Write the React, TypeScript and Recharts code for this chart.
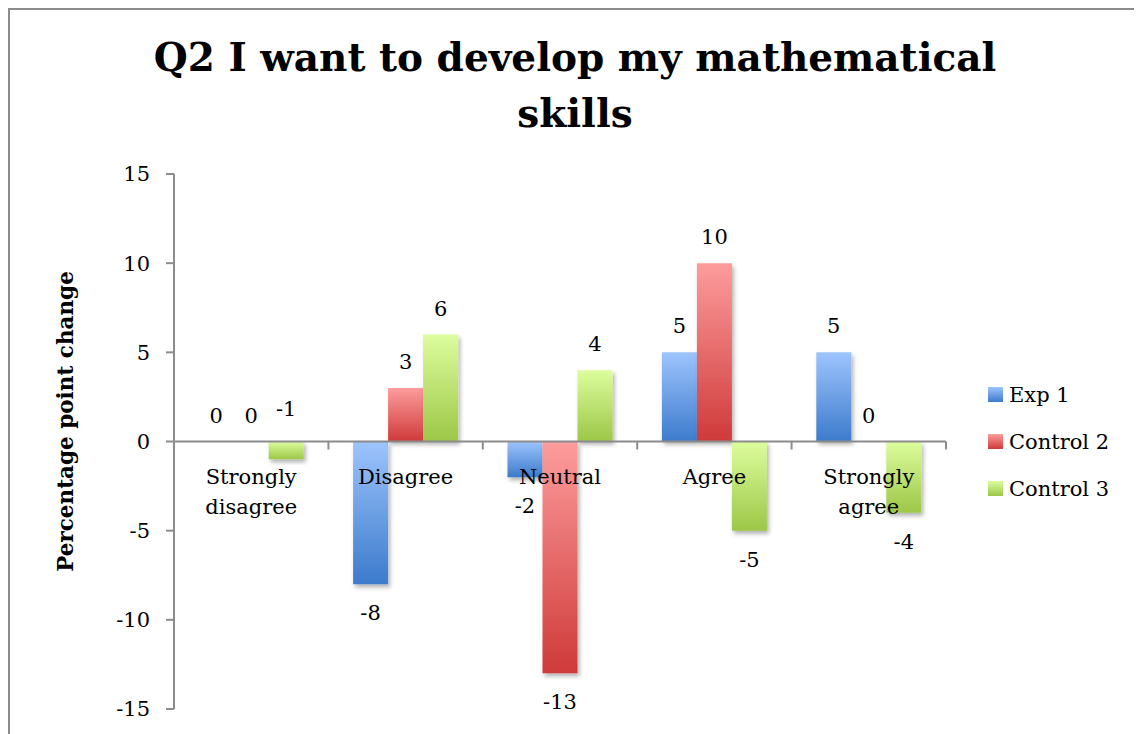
import React from 'react';
import { BarChart, Bar, XAxis, YAxis, ReferenceLine, LabelList, Legend, Rectangle } from 'recharts';

const categories = ['Strongly disagree', 'Disagree', 'Neutral', 'Agree', 'Strongly agree'];
const exp1 = [0, -8, -2, 5, 5];
const control2 = [0, 3, -13, 10, 0];
const control3 = [-1, 6, 4, -5, -4];
const seriesNames = ['Exp 1', 'Control 2', 'Control 3'];
const seriesKeys = ['exp1', 'control2', 'control3'];
const yTicks = [-15, -10, -5, 0, 5, 10, 15];
const titleLines = ['Q2 I want to develop my mathematical', 'skills'];
const yAxisTitle = 'Percentage point change';

const gradients = [
  { id: 'gBlue', top: '#9dc4fd', bottom: '#3c7bcc' },
  { id: 'gRed', top: '#fd9c9c', bottom: '#cf3a3a' },
  { id: 'gGreen', top: '#ddfd9d', bottom: '#9cc747' },
];

const data = categories.map((c, i) => ({
  category: c,
  exp1: exp1[i],
  control2: control2[i],
  control3: control3[i],
}));

const SMALL_FONT = '"DejaVu Serif", serif';
const AXIS_GRAY = '#8c8c8c';

const BarShape = (props: any) => <Rectangle {...props} filter="url(#barShadow)" />;

const renderValueLabel = (props: any) => {
  const { x, y, width, height, value } = props;
  const top = Math.min(y, y + height);
  const bottom = Math.max(y, y + height);
  const cx = x + width / 2;
  let ty: number;
  if (value >= 0) ty = top - 26;
  else if (value > -2) ty = top - 33;
  else ty = bottom + 29;
  return (
    <text x={cx} y={ty} textAnchor="middle" dominantBaseline="central" fontFamily={SMALL_FONT} fontSize={21} fill="#000">
      {value}
    </text>
  );
};

const ZeroAxis = (props: any) => {
  const vb = props.viewBox || {};
  const x0 = vb.x ?? 0;
  const y0 = vb.y ?? 0;
  const w = vb.width ?? 0;
  const n = categories.length;
  const band = w / n;
  return (
    <g>
      {categories.map((_, i) => (
        <line key={'t' + i} x1={x0 + band * (i + 1)} x2={x0 + band * (i + 1)} y1={y0} y2={y0 + 8} stroke={AXIS_GRAY} strokeWidth={2} />
      ))}
      {categories.map((c, i) => {
        const words = c.split(' ');
        return (
          <text key={'c' + i} x={x0 + band * (i + 0.5)} textAnchor="middle" fontFamily={SMALL_FONT} fontSize={21} fill="#000">
            {words.map((wd, j) => (
              <tspan key={j} x={x0 + band * (i + 0.5)} y={y0 + 35 + j * 30} dominantBaseline="central">
                {wd}
              </tspan>
            ))}
          </text>
        );
      })}
    </g>
  );
};

const LegendContent = () => (
  <div style={{ fontFamily: SMALL_FONT, fontSize: 21, color: '#000' }}>
    {seriesNames.map((name, i) => (
      <div key={name} style={{ display: 'flex', alignItems: 'center', height: 47 }}>
        <div
          style={{
            width: 15,
            height: 15,
            marginRight: 6,
            background: `linear-gradient(${gradients[i].top}, ${gradients[i].bottom})`,
          }}
        />
        <span style={{ whiteSpace: 'nowrap' }}>{name}</span>
      </div>
    ))}
  </div>
);

export default function App() {
  return (
    <div
      style={{
        position: 'relative',
        boxSizing: 'border-box',
        width: 1134,
        height: 760,
        border: `2px solid ${AXIS_GRAY}`,
        background: '#fff',
      }}
    >
      <div
        style={{
          position: 'absolute',
          top: 19,
          left: 0,
          width: '100%',
          textAlign: 'center',
          fontFamily: '"DejaVu Serif", serif',
          fontWeight: 'bold',
          fontSize: 39,
          lineHeight: '56px',
          color: '#000',
          zIndex: 2,
        }}
      >
        {titleLines.map((t) => (
          <div key={t}>{t}</div>
        ))}
      </div>
      <BarChart
        width={1130}
        height={740}
        data={data}
        margin={{ top: 164, right: 194, bottom: 41, left: 0 }}
        barCategoryGap="16%"
        barGap={0}
      >
        <defs>
          {gradients.map((g) => (
            <linearGradient key={g.id} id={g.id} x1="0" y1="0" x2="0" y2="1">
              <stop offset="0%" stopColor={g.top} />
              <stop offset="100%" stopColor={g.bottom} />
            </linearGradient>
          ))}
          <filter id="barShadow" x="-20%" y="-20%" width="150%" height="150%">
            <feDropShadow dx="2" dy="3" stdDeviation="2" floodColor="#000" floodOpacity="0.3" />
          </filter>
        </defs>
        <XAxis dataKey="category" hide />
        <YAxis
          domain={[-15, 15]}
          ticks={yTicks}
          width={164}
          tickSize={8}
          tickMargin={16}
          axisLine={{ stroke: AXIS_GRAY, strokeWidth: 2 }}
          tickLine={{ stroke: AXIS_GRAY, strokeWidth: 2 }}
          tick={{ fontFamily: SMALL_FONT, fontSize: 21, fill: '#000' }}
          interval={0}
          label={{
            value: yAxisTitle,
            angle: -90,
            position: 'center',
            dx: -27,
            dy: -20,
            style: { fontFamily: SMALL_FONT, fontSize: 21.5, fontWeight: 'bold', fill: '#000', textAnchor: 'middle' },
          }}
        />
        {seriesKeys.map((k, i) => (
          <Bar key={k} dataKey={k} name={seriesNames[i]} fill={`url(#${gradients[i].id})`} isAnimationActive={false} shape={BarShape}>
            <LabelList dataKey={k} content={renderValueLabel} />
          </Bar>
        ))}
        <ReferenceLine y={0} stroke={AXIS_GRAY} strokeWidth={2} label={<ZeroAxis />} />
        <Legend
          layout="horizontal"
          verticalAlign="middle"
          align="center"
          content={<LegendContent />}
          wrapperStyle={{ left: 978, top: 361, right: 'auto', width: 150 }}
        />
      </BarChart>
    </div>
  );
}
